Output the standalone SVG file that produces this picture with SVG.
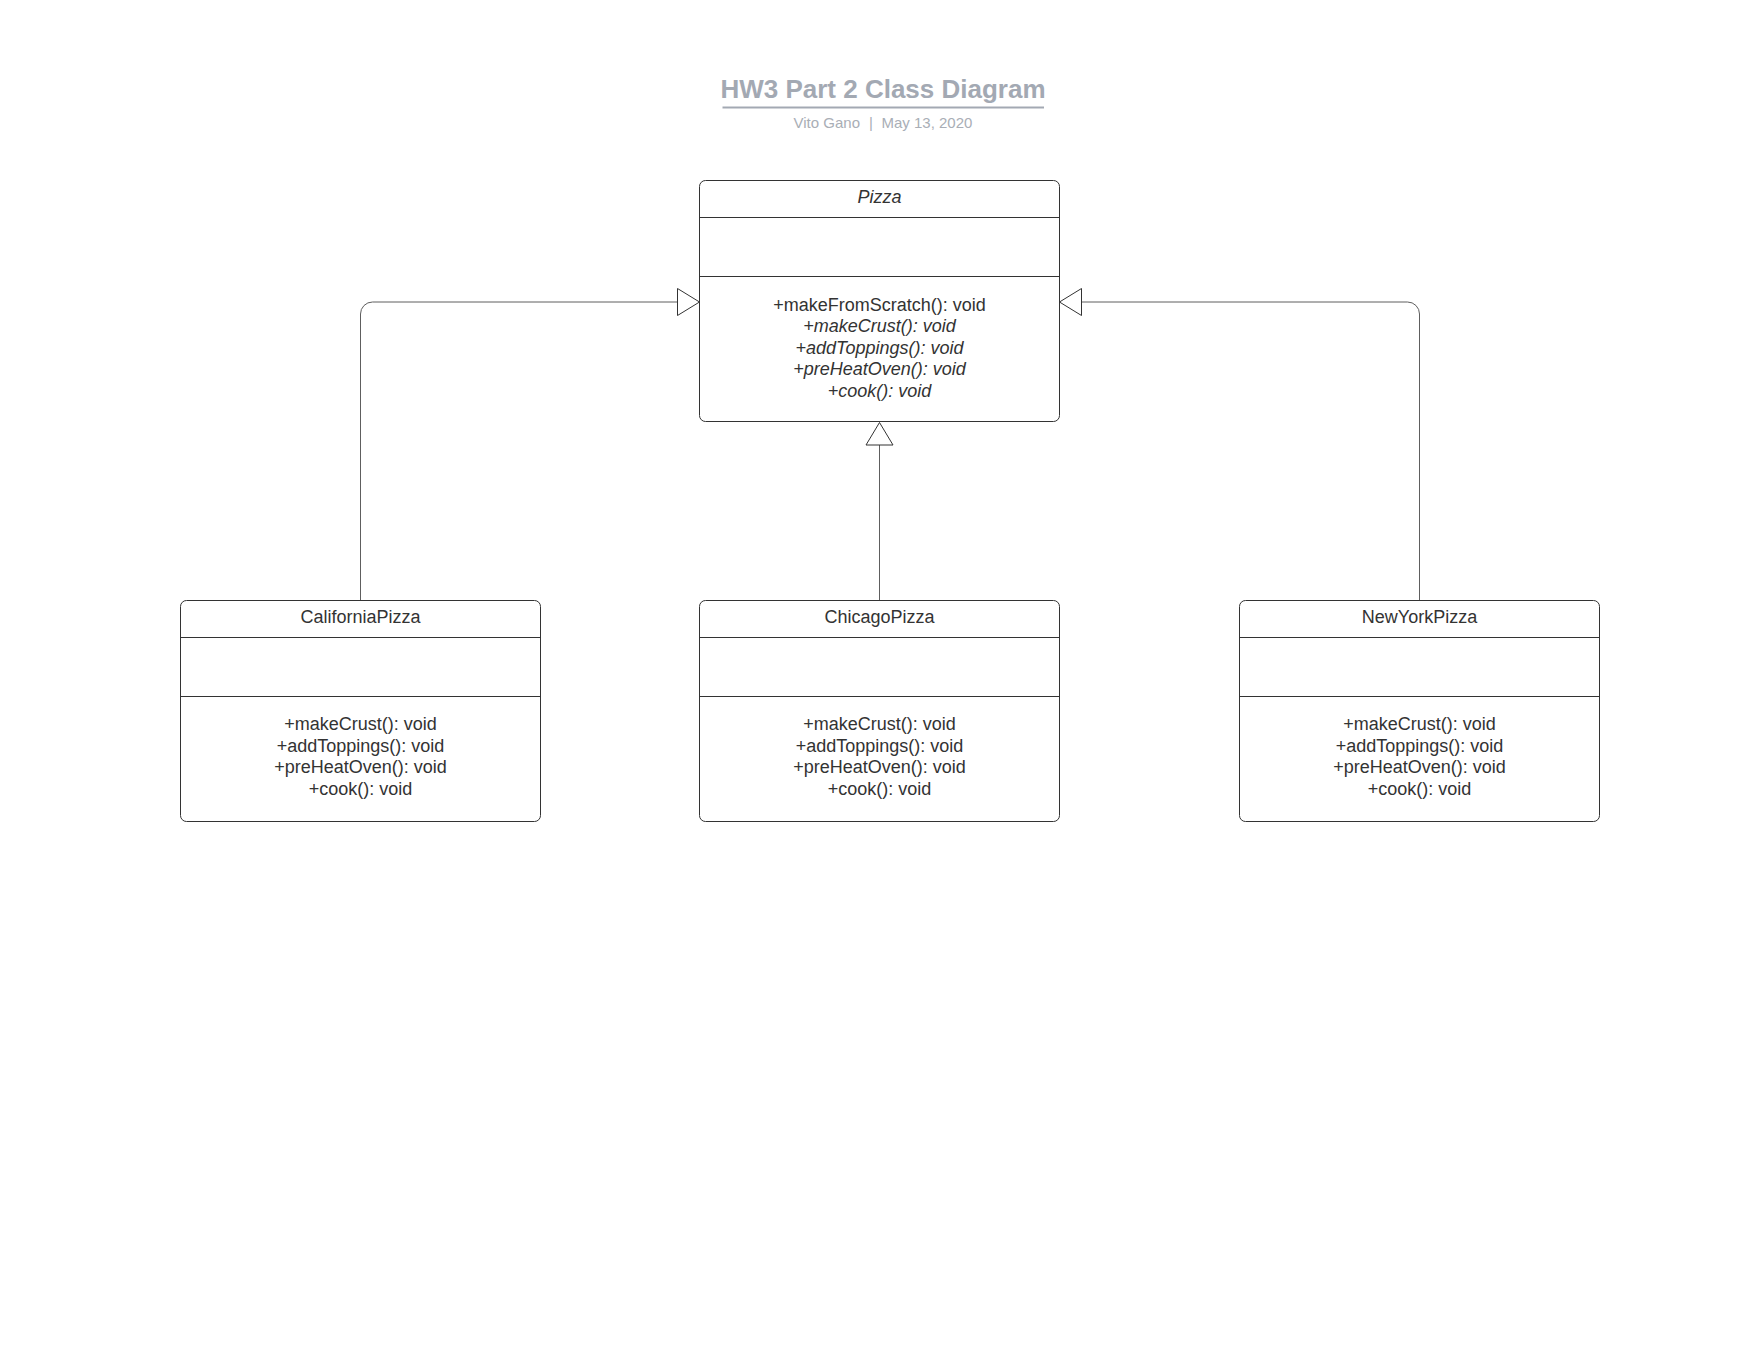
<svg xmlns="http://www.w3.org/2000/svg" width="1760" height="1360" viewBox="0 0 1760 1360">
  <style>
    .box { fill: #ffffff; stroke: #333333; stroke-width: 1; }
    .div { stroke: #333333; stroke-width: 1; }
    .txt { font-family: "Liberation Sans", Arial, sans-serif; font-size: 18px; fill: #333333; text-anchor: middle; }
    .it { font-style: italic; }
    .edge { fill: none; stroke: #5e5e5e; stroke-width: 1; }
    .head { fill: #ffffff; stroke: #333333; stroke-width: 1; stroke-linejoin: miter; }
    .title { font-family: "Liberation Sans", Arial, sans-serif; font-size: 26px; font-weight: bold; fill: #a3a9b3; text-anchor: middle; }
    .sub { font-family: "Liberation Sans", Arial, sans-serif; font-size: 15px; fill: #a9aeb6; }
  </style>
  <rect width="1760" height="1360" fill="#ffffff"/>

  <!-- heading -->
  <g id="title">
    <text class="title" x="883" y="97.5">HW3 Part 2 Class Diagram</text>
    <line x1="722.5" y1="107.5" x2="1044" y2="107.5" stroke="#a3a9b3" stroke-width="2"/>
    <text class="sub" x="860" y="127.5" text-anchor="end">Vito Gano</text>
    <text class="sub" x="871" y="127.5" text-anchor="middle">|</text>
    <text class="sub" x="881.5" y="127.5">May 13, 2020</text>
  </g>

  <!-- generalization connectors -->
  <g id="connectors">
    <path class="edge" d="M360.5 600 V314 A12 12 0 0 1 372.5 302 H677.5"/>
    <polygon class="head" points="699.5,302 677.5,288.5 677.5,315.5"/>
    <path class="edge" d="M1419.5 600 V314 A12 12 0 0 0 1407.5 302 H1081.5"/>
    <polygon class="head" points="1059.5,302 1081.5,288.5 1081.5,315.5"/>
    <path class="edge" d="M879.5 600 V445"/>
    <polygon class="head" points="879.5,422.5 866,445 893,445"/>
  </g>

  <!-- abstract base class -->
  <g id="Pizza">
    <rect class="box" x="699.5" y="180.5" width="360" height="241" rx="6"/>
    <line class="div" x1="699.5" y1="217.5" x2="1059.5" y2="217.5"/>
    <line class="div" x1="699.5" y1="276.5" x2="1059.5" y2="276.5"/>
    <text class="txt it" x="879.5" y="202.5">Pizza</text>
    <text class="txt" x="879.5" y="310.5">+makeFromScratch(): void</text>
    <text class="txt it" x="879.5" y="332">+makeCrust(): void</text>
    <text class="txt it" x="879.5" y="353.5">+addToppings(): void</text>
    <text class="txt it" x="879.5" y="375">+preHeatOven(): void</text>
    <text class="txt it" x="879.5" y="396.5">+cook(): void</text>
  </g>

  <g id="CaliforniaPizza">
    <rect class="box" x="180.5" y="600.5" width="360" height="221" rx="6"/>
    <line class="div" x1="180.5" y1="637.5" x2="540.5" y2="637.5"/>
    <line class="div" x1="180.5" y1="696.5" x2="540.5" y2="696.5"/>
    <text class="txt" x="360.5" y="622.5">CaliforniaPizza</text>
    <text class="txt" x="360.5" y="730">+makeCrust(): void</text>
    <text class="txt" x="360.5" y="751.5">+addToppings(): void</text>
    <text class="txt" x="360.5" y="773">+preHeatOven(): void</text>
    <text class="txt" x="360.5" y="794.5">+cook(): void</text>
  </g>

  <g id="ChicagoPizza">
    <rect class="box" x="699.5" y="600.5" width="360" height="221" rx="6"/>
    <line class="div" x1="699.5" y1="637.5" x2="1059.5" y2="637.5"/>
    <line class="div" x1="699.5" y1="696.5" x2="1059.5" y2="696.5"/>
    <text class="txt" x="879.5" y="622.5">ChicagoPizza</text>
    <text class="txt" x="879.5" y="730">+makeCrust(): void</text>
    <text class="txt" x="879.5" y="751.5">+addToppings(): void</text>
    <text class="txt" x="879.5" y="773">+preHeatOven(): void</text>
    <text class="txt" x="879.5" y="794.5">+cook(): void</text>
  </g>

  <g id="NewYorkPizza">
    <rect class="box" x="1239.5" y="600.5" width="360" height="221" rx="6"/>
    <line class="div" x1="1239.5" y1="637.5" x2="1599.5" y2="637.5"/>
    <line class="div" x1="1239.5" y1="696.5" x2="1599.5" y2="696.5"/>
    <text class="txt" x="1419.5" y="622.5">NewYorkPizza</text>
    <text class="txt" x="1419.5" y="730">+makeCrust(): void</text>
    <text class="txt" x="1419.5" y="751.5">+addToppings(): void</text>
    <text class="txt" x="1419.5" y="773">+preHeatOven(): void</text>
    <text class="txt" x="1419.5" y="794.5">+cook(): void</text>
  </g>
</svg>
